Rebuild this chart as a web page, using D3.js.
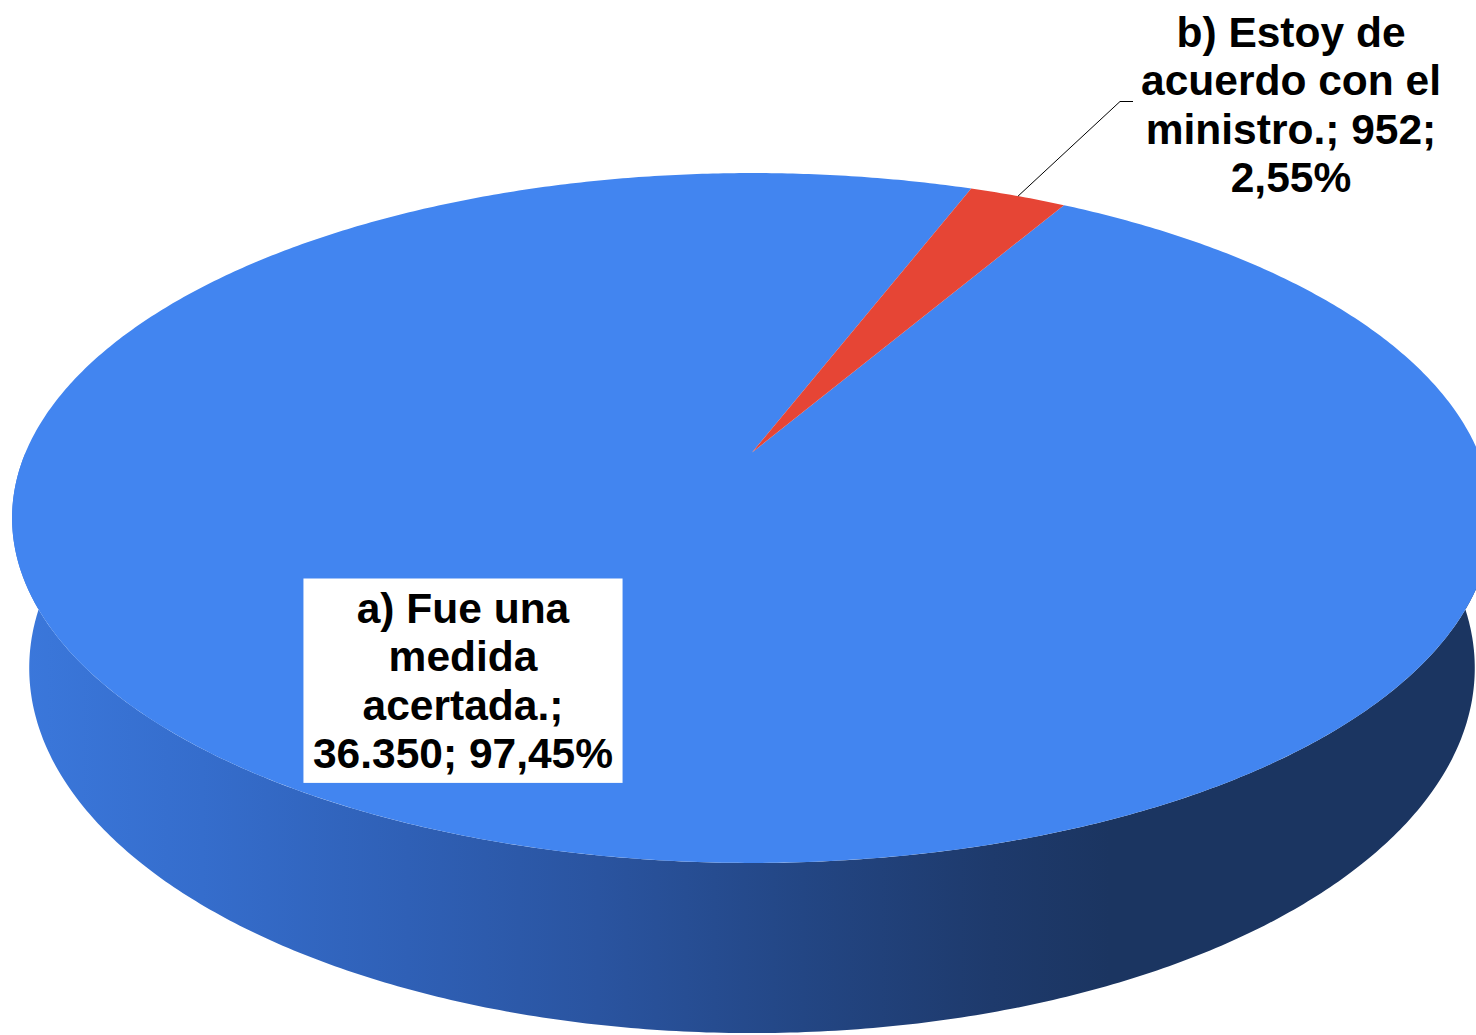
<!DOCTYPE html>
<html>
<head>
<meta charset="utf-8">
<title>Pie 3D</title>
<script src="https://d3js.org/d3.v7.min.js"></script>
<style>
body { margin: 0; background: #fff; }
svg { display: block; }
text { font-family: 'Liberation Sans', Arial, sans-serif; font-weight: bold; font-size: 42.5px; fill: #000; }
</style>
</head>
<body>
<svg width="1476" height="1035" id="chart"></svg>
<script>

  // data
  var categories = ["a) Fue una medida acertada.", "b) Estoy de acuerdo con el ministro."];
  var values = [36350, 952];
  var sliceColors = ["#4285f0", "#e64535"];
  var sideStops = [
    [0.00, "#3b78dc"], [0.13, "#356dcc"], [0.27, "#2f60b6"], [0.40, "#2a54a0"],
    [0.54, "#234684"], [0.67, "#1e3a6c"], [0.75, "#1b3561"], [1.00, "#1b3561"]
  ];

  var svg = d3.select("#chart");
  var g = svg.append("g");

  // perspective camera looking down at the disc
  var X0 = 752, Y0 = 452.5, K = 3402, D = 4.683, H = 0.234;
  var tilt = 27.24 / 180 * Math.PI;
  var cs = Math.cos(tilt), sn = Math.sin(tilt);

  function project(X, Y, Z) {
    var vy = Y + D * cs, vz = Z - D * sn;
    var yc = vy * sn + vz * cs;
    var zc = vy * cs - vz * sn;
    return [X0 + K * X / zc, Y0 - K * yc / zc];
  }
  // a = clockwise angle from 12 o'clock
  function rim(a, z) { return project(Math.sin(a), Math.cos(a), z); }

  var line = d3.line();

  var pie = d3.pie().sort(null)
    .startAngle(Math.PI / 6)
    .endAngle(Math.PI / 6 + 2 * Math.PI);
  var arcs = pie(values);

  var grad = svg.append("defs").append("linearGradient")
    .attr("id", "side")
    .attr("gradientUnits", "userSpaceOnUse")
    .attr("x1", 12).attr("x2", 1476).attr("y1", 0).attr("y2", 0);
  grad.selectAll("stop").data(sideStops).enter().append("stop")
    .attr("offset", function (d) { return d[0]; })
    .attr("stop-color", function (d) { return d[1]; });

  function steps(a0, a1) {
    var n = Math.max(2, Math.ceil((a1 - a0) / (Math.PI / 360)));
    return d3.range(n + 1).map(function (i) { return a0 + (a1 - a0) * i / n; });
  }

  // side walls (front half only)
  arcs.forEach(function (d, i) {
    var lo = Math.max(d.startAngle, Math.PI / 2);
    var hi = Math.min(d.endAngle, 3 * Math.PI / 2);
    if (hi <= lo) return;
    var ang = steps(lo, hi);
    var pts = ang.map(function (a) { return rim(a, 0); })
      .concat(ang.slice().reverse().map(function (a) { return rim(a, -H); }));
    g.append("path")
      .attr("fill", i === 0 ? "url(#side)" : sliceColors[i])
      .attr("d", line(pts) + "Z");
  });

  // top faces
  arcs.forEach(function (d, i) {
    var pts = [project(0, 0, 0)].concat(steps(d.startAngle, d.endAngle).map(function (a) { return rim(a, 0); }));
    g.append("path")
      .attr("fill", sliceColors[i])
      .attr("d", line(pts) + "Z");
  });

  // labels
  var total = d3.sum(values);
  var loc = d3.formatLocale({ decimal: ",", thousands: ".", grouping: [3], currency: ["", ""] });
  var fmtVal = loc.format(",d"), fmtPct = loc.format(".2%");

  function wrap(textSel, str, maxW, lh) {
    var words = str.split(" "), lines = [], cur = "";
    var probe = textSel.append("tspan");
    words.forEach(function (w) {
      var t = cur ? cur + " " + w : w;
      probe.text(t);
      if (cur && probe.node().getComputedTextLength() > maxW) { lines.push(cur); cur = w; }
      else cur = t;
    });
    lines.push(cur);
    probe.remove();
    lines.forEach(function (l, k) {
      textSel.append("tspan").attr("x", textSel.attr("x")).attr("dy", k === 0 ? 0 : lh).text(l);
    });
  }

  var labelPos = [[463, 623], [1291, 47]];
  var labels = arcs.map(function (d, i) {
    return categories[i] + "; " + fmtVal(values[i]) + "; " + fmtPct(values[i] / total);
  });

  labels.forEach(function (str, i) {
    var lg = svg.append("g");
    var bg = lg.append("rect").attr("fill", "#fff");
    var t = lg.append("text")
      .attr("x", labelPos[i][0]).attr("y", labelPos[i][1])
      .attr("text-anchor", "middle");
    wrap(t, str, 320, 48.3);
    var bb = t.node().getBBox();
    if (i === 0) {
      bg.attr("x", bb.x - 9.5).attr("y", bb.y - 6.5).attr("width", bb.width + 19).attr("height", bb.height + 12.5);
    } else bg.remove();
  });

  // leader line for the small slice
  var red = arcs[1];
  var p0 = rim((red.startAngle + red.endAngle) / 2, 0);
  svg.append("path")
    .attr("fill", "none").attr("stroke", "#000").attr("stroke-width", 1)
    .attr("d", line([p0, [1120, 101.5], [1133, 101.5]]));

</script>
</body>
</html>
